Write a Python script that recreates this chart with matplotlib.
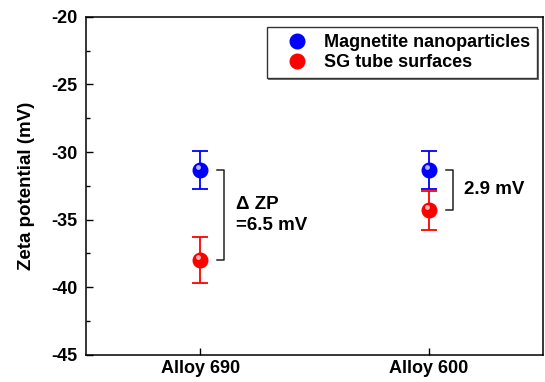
import matplotlib.pyplot as plt
import matplotlib.transforms as mtransforms
import matplotlib.patheffects as pe
import numpy as np
from matplotlib.ticker import MultipleLocator

plt.rcParams['font.family'] = ['Liberation Sans', 'DejaVu Sans']
plt.rcParams['font.weight'] = 'bold'
plt.rcParams['axes.unicode_minus'] = False

alloys = ['Alloy 690', 'Alloy 600']
magnetite = [-31.3, -31.3]
magnetite_err = [1.4, 1.4]
tube = [-38.0, -34.3]
tube_err = [1.7, 1.45]
delta_labels = ['\u0394 ZP\n=6.5 mV', '2.9 mV']

fig = plt.figure(figsize=(5.45, 3.82), dpi=100)
ax = fig.add_axes([0.158, 0.071, 0.838, 0.885])

x = np.arange(1, len(alloys) + 1)
shine = ax.transData + mtransforms.ScaledTranslation(-1.5/72, 2/72, fig.dpi_scale_trans)

def sphere(xs, ys, err, color, label):
    ax.errorbar(xs, ys, yerr=err, fmt='none', ecolor=color, elinewidth=1.3,
                capsize=5.6, capthick=1.3, zorder=2)
    ax.plot(xs, ys, 'o', ms=10.5, color=color, mec=color, zorder=3, label=label)
    ax.plot(xs, ys, 'o', ms=3.5, color='white', mec='none', alpha=0.7, zorder=4,
            transform=shine)

sphere(x, magnetite, magnetite_err, '#0000ff', 'Magnetite nanoparticles')
sphere(x, tube, tube_err, '#ff0000', 'SG tube surfaces')

# brackets showing the difference
for i in range(len(alloys)):
    xb = x[i] + 0.105
    w = 0.03
    ax.plot([xb - w, xb, xb, xb - w], [magnetite[i], magnetite[i], tube[i], tube[i]],
            color='#222222', lw=1.1, zorder=2)
    ax.text(xb + 0.05, (magnetite[i] + tube[i]) / 2, delta_labels[i],
            fontsize=13.5, fontweight='bold', va='center', ha='left', linespacing=1.3)

ax.set_xlim(0.5, 2.5)
ax.set_ylim(-45, -20)
ax.set_xticks(x)
ax.set_xticklabels(alloys, fontsize=13, fontweight='bold')
ax.yaxis.set_major_locator(MultipleLocator(5))
ax.yaxis.set_minor_locator(MultipleLocator(2.5))
ax.tick_params(axis='y', direction='in', length=5, width=1, labelsize=13, pad=6)
ax.tick_params(axis='y', which='minor', direction='in', length=3, width=1)
ax.tick_params(axis='x', direction='in', length=5, width=1, pad=4)
ax.set_ylabel('Zeta potential (mV)', fontsize=13.5, fontweight='bold', labelpad=12)
for s in ax.spines.values():
    s.set_linewidth(1.1)

leg = ax.legend(loc='upper right', bbox_to_anchor=(0.987, 0.970), borderaxespad=0,
                fontsize=13, frameon=True, fancybox=False, edgecolor='#333333',
                framealpha=1, handletextpad=0.15, borderpad=0.4, labelspacing=0.15,
                handlelength=2.6)
frame = leg.get_frame()
frame.set_linewidth(1.0)
frame.set_path_effects([pe.SimplePatchShadow(offset=(1.2, -1.2), shadow_rgbFace='0.45', alpha=1),
                        pe.Normal()])
for t in leg.get_texts():
    t.set_fontweight('bold')

fig.savefig('out.png', dpi=100)
